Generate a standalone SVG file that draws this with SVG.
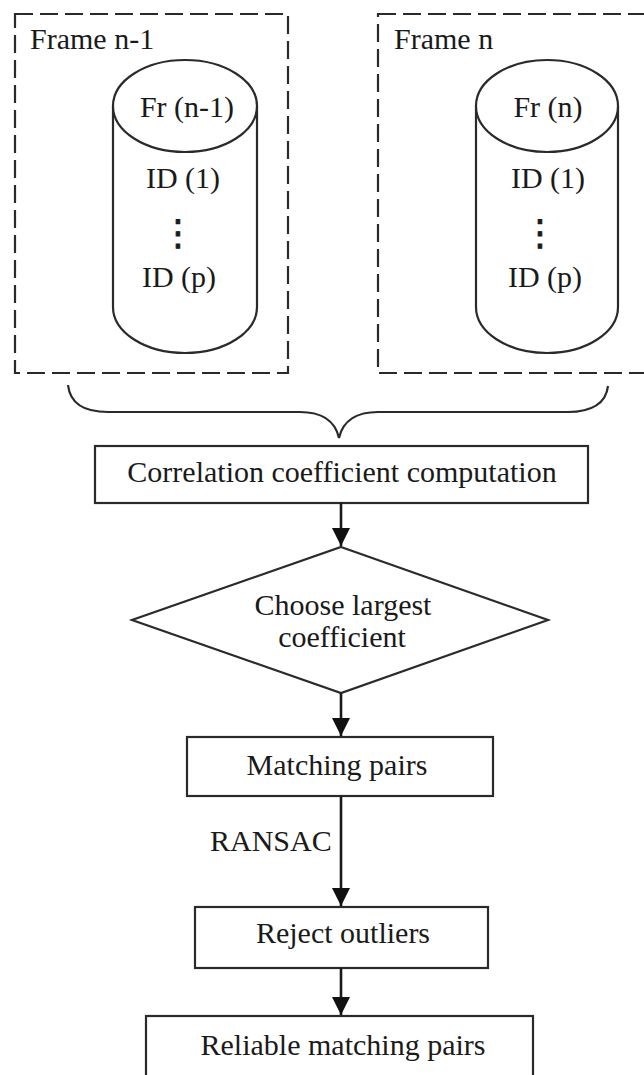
<svg xmlns="http://www.w3.org/2000/svg" width="644" height="1075" viewBox="0 0 644 1075">
<defs>
<style>
.t{font-family:"Liberation Serif","Times New Roman",serif;font-size:30px;fill:#1a1a1a}
.m{text-anchor:middle}
.frame{fill:none;stroke:#2a2a2a;stroke-width:2.2;stroke-dasharray:18 7}
.shape{fill:#fff;stroke:#2a2a2a;stroke-width:2.2}
.line{fill:none;stroke:#1a1a1a;stroke-width:2.6}
.brace{fill:none;stroke:#2a2a2a;stroke-width:2.2}
.dots{font-family:"DejaVu Sans",sans-serif;font-size:36px;fill:#1a1a1a;text-anchor:middle;stroke:#1a1a1a;stroke-width:0.8}
</style>
<marker id="ah" markerWidth="20" markerHeight="18" refX="18" refY="9" orient="auto" markerUnits="userSpaceOnUse">
<path d="M0,0 L18,9 L0,18 Z" fill="#111"/>
</marker>
</defs>
<rect width="644" height="1075" fill="#fff"/>

<g id="frame-n-1">
<rect class="frame" x="15" y="14" width="273" height="359"/>
<text class="t" x="30" y="49">Frame n-1</text>
</g>
<g id="frame-n">
<rect class="frame" x="378" y="14" width="280" height="359"/>
<text class="t" x="394" y="49">Frame n</text>
</g>

<g id="cylinder-n-1">
<path class="shape" d="M113,106 L113,307 A72,46 0 0 0 257,307 L257,106"/>
<ellipse class="shape" cx="185" cy="106" rx="72" ry="46"/>
<text class="t m" x="187" y="117">Fr (n-1)</text>
<text class="t m" x="183" y="188">ID (1)</text>
<text class="dots" x="178" y="245">⋮</text>
<text class="t m" x="179" y="287">ID (p)</text>
</g>

<g id="cylinder-n">
<path class="shape" d="M476,106 L476,307 A71,46 0 0 0 618,307 L618,106"/>
<ellipse class="shape" cx="547" cy="106" rx="71" ry="46"/>
<text class="t m" x="548" y="117">Fr (n)</text>
<text class="t m" x="548" y="188">ID (1)</text>
<text class="dots" x="540" y="245">⋮</text>
<text class="t m" x="545" y="287">ID (p)</text>
</g>

<g id="brace">
<path class="brace" d="M68,385 C70,403 84,412 108,412 L300,412 C320,412 335,420 339,438 C343,420 358,412 378,412 L568,412 C592,412 606,403 608,386"/>
</g>

<g id="correlation">
<rect class="shape" x="95" y="446" width="493" height="57"/>
<text class="t m" x="342" y="482">Correlation coefficient computation</text>
</g>

<g id="choose">
<polygon class="shape" points="341,547 548,620 341,693 132,620"/>
<text class="t m" x="343" y="615">Choose largest</text>
<text class="t m" x="342" y="647">coefficient</text>
</g>

<g id="matching">
<rect class="shape" x="187" y="737" width="306" height="59"/>
<text class="t m" x="337" y="775">Matching pairs</text>
</g>

<g id="reject">
<rect class="shape" x="195" y="907" width="293" height="61"/>
<text class="t m" x="343" y="943">Reject outliers</text>
</g>

<g id="reliable">
<rect class="shape" x="146" y="1016" width="387" height="80"/>
<text class="t m" x="343" y="1055">Reliable matching pairs</text>
</g>

<g id="connectors">
<line class="line" x1="341" y1="503" x2="341" y2="546" marker-end="url(#ah)"/>
<line class="line" x1="341" y1="693" x2="341" y2="736" marker-end="url(#ah)"/>
<line class="line" x1="341" y1="796" x2="341" y2="906" marker-end="url(#ah)"/>
<line class="line" x1="341" y1="968" x2="341" y2="1015" marker-end="url(#ah)"/>
<text class="t" x="210" y="851">RANSAC</text>
</g>
</svg>
